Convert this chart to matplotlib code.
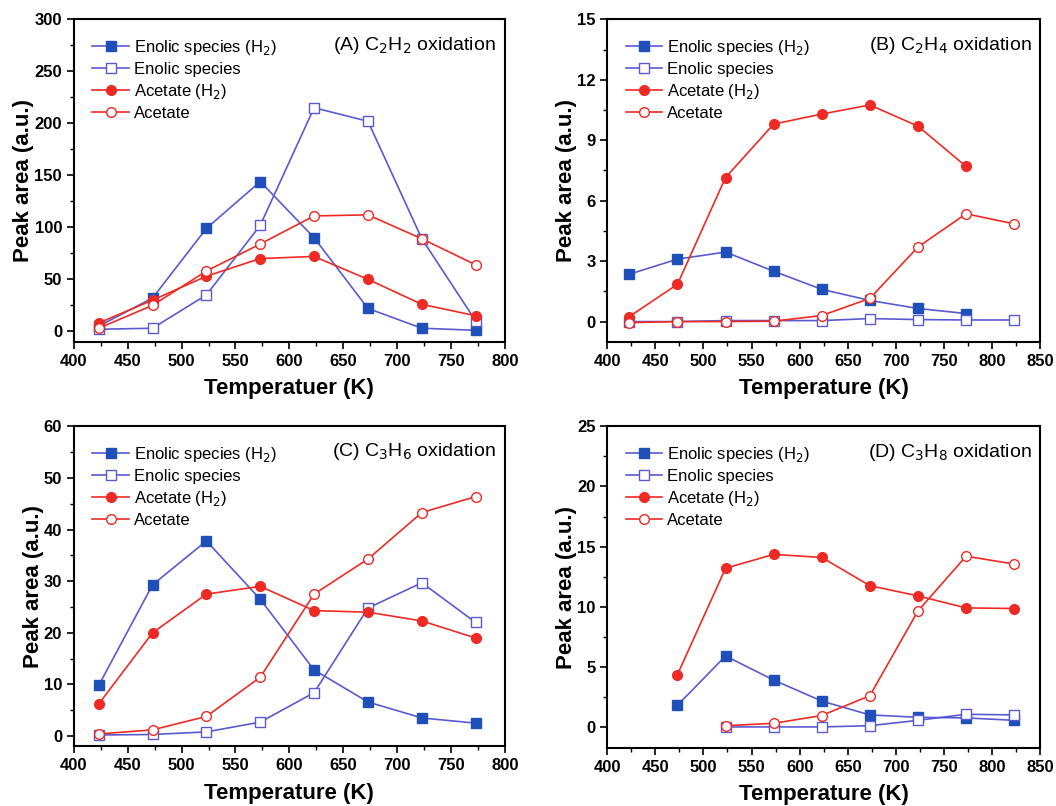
import numpy as np
import matplotlib
matplotlib.use("Agg")
import matplotlib.pyplot as plt
from matplotlib.ticker import MultipleLocator

plt.rcParams['font.family'] = ['Liberation Sans', 'DejaVu Sans']

# temperatures (K)
temp_a = [423, 473, 523, 573, 623, 673, 723, 773]
temp_b = [423, 473, 523, 573, 623, 673, 723, 773, 823]
temp_d = [473, 523, 573, 623, 673, 723, 773, 823]

# (A) C2H2 oxidation
a_enol_h2 = [5, 32, 99, 144, 90, 22, 3, 1]
a_enol = [2, 3, 35, 102, 215, 202, 89, 10]
a_acet_h2 = [8, 30, 53, 70, 72, 50, 26, 15]
a_acet = [3, 25, 58, 84, 111, 112, 89, 64]

# (B) C2H4 oxidation
b_enol_h2 = [2.35, 3.1, 3.45, 2.5, 1.6, 1.05, 0.65, 0.4]
b_enol = [0.0, 0.0, 0.05, 0.05, 0.05, 0.15, 0.1, 0.08, 0.08]
b_acet_h2 = [0.25, 1.85, 7.15, 9.8, 10.3, 10.75, 9.7, 7.7]
b_acet = [-0.05, 0.0, 0.0, 0.02, 0.3, 1.15, 3.7, 5.35, 4.85]

# (C) C3H6 oxidation
c_enol_h2 = [9.8, 29.3, 37.8, 26.5, 12.8, 6.6, 3.5, 2.5]
c_enol = [0.2, 0.3, 0.8, 2.7, 8.4, 24.8, 29.7, 22]
c_acet_h2 = [6.2, 20, 27.5, 29, 24.3, 24, 22.3, 19]
c_acet = [0.4, 1.2, 3.8, 11.4, 27.5, 34.3, 43.3, 46.4]

# (D) C3H8 oxidation
d_enol_h2 = [1.8, 5.9, 3.9, 2.15, 1.0, 0.8, 0.75, 0.55]
d_enol = [0.0, 0.0, 0.0, 0.1, 0.55, 1.05, 1.0]
d_acet_h2 = [4.35, 13.2, 14.35, 14.1, 11.75, 10.9, 9.9, 9.85]
d_acet = [0.1, 0.3, 0.95, 2.6, 9.65, 14.2, 13.55]

BLUE_LINE = '#5a5ad0'
BLUE_FACE = '#1f4fb8'
RED = '#ee2a24'


def draw(ax, series, title, xlim, ylim, ymaj, xlabel):
    (x1, e_h2), (x2, e), (x3, ac_h2), (x4, ac) = series
    ax.plot(x1, e_h2, '-s', color=BLUE_LINE, mfc=BLUE_FACE, mec=BLUE_FACE,
            ms=6.5, lw=1.2, label='Enolic species (H$_2$)')
    ax.plot(x2, e, '-s', color=BLUE_LINE, mfc='white', mec=BLUE_LINE,
            ms=6.5, lw=1.2, label='Enolic species')
    ax.plot(x3, ac_h2, '-o', color=RED, mfc=RED, mec=RED,
            ms=7, lw=1.2, label='Acetate (H$_2$)')
    ax.plot(x4, ac, '-o', color=RED, mfc='white', mec=RED,
            ms=7, lw=1.2, label='Acetate')
    ax.set_xlim(*xlim)
    ax.set_ylim(*ylim)
    ax.xaxis.set_major_locator(MultipleLocator(50))
    ax.xaxis.set_minor_locator(MultipleLocator(25))
    ax.yaxis.set_major_locator(MultipleLocator(ymaj))
    ax.yaxis.set_minor_locator(MultipleLocator(ymaj / 2))
    ax.tick_params(which='both', direction='out', top=False, right=False)
    ax.tick_params(which='major', length=5, width=1.2, labelsize=12)
    ax.tick_params(which='minor', length=3, width=1)
    for lab in ax.get_xticklabels() + ax.get_yticklabels():
        lab.set_fontweight('bold')
    for sp in ax.spines.values():
        sp.set_linewidth(1.5)
    ax.set_xlabel(xlabel, fontsize=16, fontweight='bold', labelpad=7)
    ax.set_ylabel('Peak area (a.u.)', fontsize=16, fontweight='bold', labelpad=0)
    ax.text(0.98, 0.92, title, transform=ax.transAxes, ha='right', va='center',
            fontsize=14)
    ax.legend(loc='upper left', frameon=False, fontsize=12, handlelength=2.2,
              handletextpad=0.3, labelspacing=0.3, borderaxespad=0.7)


fig = plt.figure(figsize=(10.56, 8.06), dpi=100)
ax_a = fig.add_axes([0.070, 0.576, 0.408, 0.400])
ax_b = fig.add_axes([0.575, 0.576, 0.410, 0.400])
ax_c = fig.add_axes([0.070, 0.074, 0.408, 0.397])
ax_d = fig.add_axes([0.575, 0.072, 0.410, 0.399])

draw(ax_a, [(temp_a, a_enol_h2), (temp_a, a_enol), (temp_a, a_acet_h2), (temp_a, a_acet)],
     '(A) C$_2$H$_2$ oxidation', (400, 800), (-10, 300), 50, 'Temperatuer (K)')
draw(ax_b, [(temp_a, b_enol_h2), (temp_b, b_enol), (temp_a, b_acet_h2), (temp_b, b_acet)],
     '(B) C$_2$H$_4$ oxidation', (400, 850), (-1, 15), 3, 'Temperature (K)')
draw(ax_c, [(temp_a, c_enol_h2), (temp_a, c_enol), (temp_a, c_acet_h2), (temp_a, c_acet)],
     '(C) C$_3$H$_6$ oxidation', (400, 800), (-2, 60), 10, 'Temperature (K)')
draw(ax_d, [(temp_d, d_enol_h2), (temp_d[1:], d_enol), (temp_d, d_acet_h2), (temp_d[1:], d_acet)],
     '(D) C$_3$H$_8$ oxidation', (400, 850), (-1.75, 25), 5, 'Temperature (K)')

fig.savefig('out.png', dpi=100)
